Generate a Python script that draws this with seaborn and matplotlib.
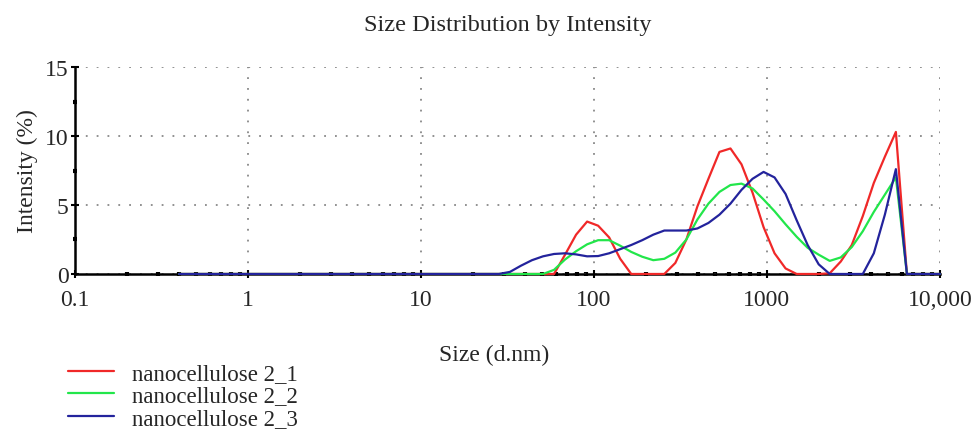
import numpy as np
import pandas as pd
import matplotlib
matplotlib.use("Agg")
import matplotlib.pyplot as plt
import seaborn as sns

# Size bins (d.nm) of the instrument
sizes = [0.400, 0.463, 0.537, 0.621, 0.720, 0.833, 0.965, 1.117, 1.294, 1.499,
         1.736, 2.010, 2.328, 2.696, 3.122, 3.615, 4.187, 4.849, 5.615, 6.503,
         7.531, 8.721, 10.10, 11.70, 13.54, 15.69, 18.17, 21.04, 24.36, 28.21,
         32.67, 37.84, 43.82, 50.75, 58.77, 68.06, 78.82, 91.28, 105.7, 122.4,
         141.8, 164.2, 190.1, 220.2, 255.0, 295.3, 342.0, 396.1, 458.7, 531.2,
         615.1, 712.4, 825.0, 955.4, 1106, 1281, 1484, 1718, 1990, 2305,
         2669, 3091, 3580, 4145, 4801, 5560, 6439, 7456, 8635, 10000]

zeros30 = [0.0] * 30
ns_2_1 = zeros30 + [0, 0, 0, 0, 0, 1.4, 2.85, 3.8, 3.5, 2.65,
                    1.1, 0, 0, 0, 0, 0.8, 2.5, 4.9, 6.9, 8.85,
                    9.1, 7.95, 5.9, 3.4, 1.5, 0.4, 0, 0, 0, 0.05,
                    0.9, 2.1, 4.2, 6.6, 8.5, 10.3, 0, 0, 0, 0]
ns_2_2 = zeros30 + [0, 0, 0, 0, 0.3, 1.05, 1.65, 2.15, 2.45, 2.45,
                    2.05, 1.6, 1.25, 1.0, 1.1, 1.55, 2.5, 3.95, 5.1, 5.95,
                    6.45, 6.55, 6.2, 5.4, 4.55, 3.6, 2.7, 1.9, 1.4, 0.95,
                    1.2, 1.95, 3.1, 4.5, 5.75, 7.0, 0, 0, 0, 0]
ns_2_3 = zeros30 + [0.15, 0.6, 1.0, 1.28, 1.45, 1.5, 1.42, 1.28, 1.3, 1.5,
                    1.8, 2.1, 2.45, 2.85, 3.15, 3.15, 3.15, 3.3, 3.7, 4.3,
                    5.1, 6.1, 6.9, 7.4, 7.0, 5.8, 3.9, 2.1, 0.7, 0,
                    0, 0, 0, 1.5, 4.3, 7.6, 0, 0, 0, 0]

series_names = ["nanocellulose 2_1", "nanocellulose 2_2", "nanocellulose 2_3"]
series_colors = ["#f02828", "#22e64a", "#23239c"]
xtick_vals = [0.1, 1, 10, 100, 1000, 10000]
xtick_labels = ["0.1", "1", "10", "100", "1000", "10,000"]
ytick_vals = [0, 5, 10, 15]

df = pd.concat([
    pd.DataFrame({"size": sizes, "intensity": v, "sample": n})
    for v, n in zip([ns_2_1, ns_2_2, ns_2_3], series_names)
])

sns.set_style("white")
plt.rcParams["font.family"] = ["Liberation Serif", "DejaVu Serif"]

fig = plt.figure(figsize=(9.76, 4.31), dpi=100)
ax = fig.add_axes([0.0768, 0.362, 0.8863, 0.480])

sns.lineplot(data=df, x="size", y="intensity", hue="sample",
             palette=dict(zip(series_names, series_colors)),
             linewidth=1.6, ax=ax, legend=True)
for ln in ax.get_lines():
    ln.set_clip_on(False)
    ln.set_zorder(2.6)

ax.set_xscale("log")
ax.set_xlim(0.1, 10000)
ax.set_ylim(0, 15)
ax.set_xticks(xtick_vals)
ax.set_xticklabels(xtick_labels)
ax.set_yticks(ytick_vals)
ax.set_yticks([2.5, 7.5, 12.5], minor=True)
ax.xaxis.set_minor_locator(matplotlib.ticker.LogLocator(base=10, subs=np.arange(2, 10)))
ax.xaxis.set_minor_formatter(matplotlib.ticker.NullFormatter())

ax.grid(True, which="major", color="#888888", linestyle=(0, (1, 5)), linewidth=1.3)
for s in ["top", "right"]:
    ax.spines[s].set_visible(False)
for s in ["left", "bottom"]:
    ax.spines[s].set_color("black")
    ax.spines[s].set_linewidth(1.8)
    ax.spines[s].set_zorder(2.5)

ax.tick_params(axis="both", which="major", direction="inout", length=6, width=1.5,
               color="black", labelsize=17, pad=1.5, bottom=True, left=True)
ax.tick_params(axis="x", which="major", pad=8)
ax.tick_params(axis="both", which="minor", direction="inout", length=3, width=3,
               color="black", bottom=True, left=True)

ax.set_xlabel("Size (d.nm)", fontsize=17)
ax.xaxis.set_label_coords(0.485, -0.34)
ax.set_ylabel("Intensity (%)", fontsize=17)
ax.yaxis.set_label_coords(-0.043, 0.5)
ax.set_title("Size Distribution by Intensity", fontsize=17.5, pad=27)

handles, labels = ax.get_legend_handles_labels()
ax.legend(handles, labels, loc="upper left", bbox_to_anchor=(-0.008, -0.43),
          frameon=False, fontsize=16.5, handlelength=2.0, handletextpad=0.8,
          labelspacing=0.06, borderpad=0, borderaxespad=0)

fig.savefig("out.png", dpi=100)
